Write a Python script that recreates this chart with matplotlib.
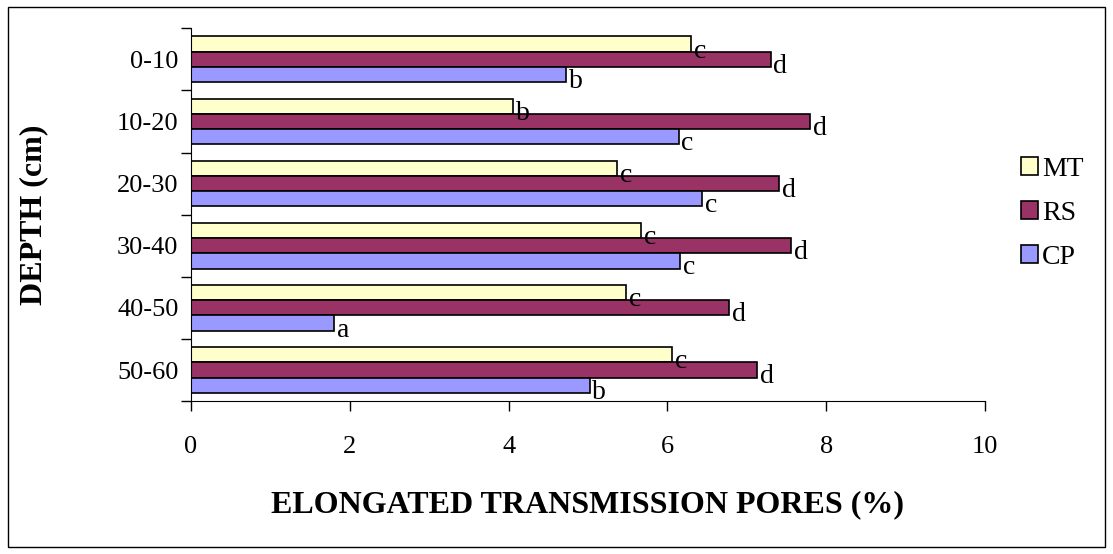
# -*- coding: utf-8 -*-
# elongated transmission pores by depth - horizontal grouped bars
import numpy as np
from matplotlib import pyplot as plt
from matplotlib.patches import Rectangle

plt.rcParams['font.family'] = ['Liberation Serif', 'DejaVu Serif']

depths = ['0-10', '10-20', '20-30', '30-40', '40-50', '50-60']
mt = [6.30, 4.06, 5.37, 5.67, 5.48, 6.06]
rs = [7.30, 7.80, 7.41, 7.56, 6.78, 7.13]
cp = [4.72, 6.14, 6.44, 6.16, 1.80, 5.02]
mt_lbl = ['c', 'b', 'c', 'c', 'c', 'c']
rs_lbl = ['d', 'd', 'd', 'd', 'd', 'd']
cp_lbl = ['b', 'c', 'c', 'c', 'a', 'b']

fig = plt.figure(figsize=(11.13, 5.54), dpi=100)
ax = fig.add_axes([0.1716, 0.276, 0.7134, 0.673])

# outer border of the chart area
fig.patches.append(Rectangle((0.007, 0.012), 0.986, 0.976, transform=fig.transFigure,
                             fill=False, edgecolor='black', linewidth=1.0))

y = np.arange(len(depths))
h = 0.245
series = [('MT', mt, mt_lbl, '#FFFFCC', -h),
          ('RS', rs, rs_lbl, '#993366', 0),
          ('CP', cp, cp_lbl, '#9999FF', h)]

for name, vals, lbls, col, off in series:
    bars = ax.barh(y + off, vals, height=h, color=col, edgecolor='black',
                   linewidth=1.2, label=name)
    for b, v, t in zip(bars, vals, lbls):
        ax.annotate(t, (v, b.get_y() + b.get_height() / 2), xytext=(2, -5),
                    textcoords='offset points', ha='left', va='center', fontsize=20)

ax.set_xlim(0, 10)
ax.set_ylim(len(depths) - 0.5, -0.5)
ax.set_xticks([0, 2, 4, 6, 8, 10])
ax.set_yticks(np.arange(-0.5, len(depths)))
ax.set_yticklabels([])
ax.set_yticks(y, minor=True)
ax.set_yticklabels(depths, minor=True)
ax.tick_params(axis='y', which='major', direction='out', length=7, width=1)
ax.tick_params(axis='y', which='minor', length=0, pad=9, labelsize=19)
ax.tick_params(axis='x', direction='out', length=7, width=1, pad=18, labelsize=19)
for s in ['top', 'right']:
    ax.spines[s].set_visible(False)

ax.set_xlabel('ELONGATED TRANSMISSION PORES (%)', fontsize=23, fontweight='bold')
ax.xaxis.set_label_coords(0.5, -0.24)
ax.set_ylabel('DEPTH (cm)', fontsize=23, fontweight='bold')
ax.yaxis.set_label_coords(-0.18, 0.5)

fig.legend(loc='center left', bbox_to_anchor=(0.895, 0.615), frameon=False, fontsize=20,
           handlelength=0.6, handleheight=0.6, handletextpad=0.15, labelspacing=0.68)

plt.savefig('out.png', dpi=100)
